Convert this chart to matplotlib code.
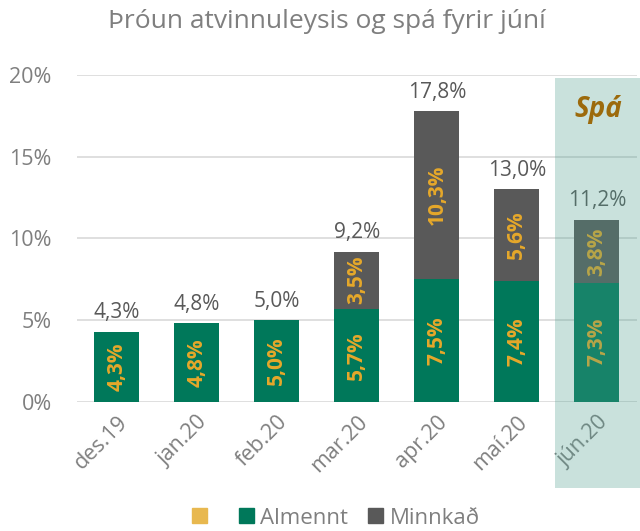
import matplotlib.pyplot as plt
import matplotlib.patches as mpatches

plt.rcParams['font.family'] = ['Open Sans', 'DejaVu Sans']

months = ["des.19", "jan.20", "feb.20", "mar.20", "apr.20", "maí.20", "jún.20"]
almennt = [4.3, 4.8, 5.0, 5.7, 7.5, 7.4, 7.3]
minnkad = [0.0, 0.0, 0.0, 3.5, 10.3, 5.6, 3.8]
totals = [4.3, 4.8, 5.0, 9.2, 17.8, 13.0, 11.2]
yticks = [0, 5, 10, 15, 20]

GREEN = "#00785A"
GRAY = "#595959"
YELLOW = "#E8B84F"
ORANGE = "#E6A82A"
TXT = "#7F7F7F"

def fmt(v):
    return f"{v:.1f}".replace(".", ",") + "%"

fig = plt.figure(figsize=(6.4, 5.31), dpi=100)
ax = fig.add_axes([0.120, 0.243, 0.875, 0.616])

x = range(len(months))
w = 0.56
ax.bar(x, almennt, width=w, color=GREEN, zorder=2)
ax.bar(x, minnkad, width=w, bottom=almennt, color=GRAY, zorder=2)

for i in x:
    ax.text(i, almennt[i] / 2, fmt(almennt[i]), rotation=90, ha="center", va="center",
            color=ORANGE, fontsize=15, fontweight="bold", zorder=3)
    if minnkad[i] > 0:
        ax.text(i, almennt[i] + minnkad[i] / 2, fmt(minnkad[i]), rotation=90, ha="center",
                va="center", color=ORANGE, fontsize=15, fontweight="bold", zorder=3)
    ax.text(i, totals[i] + 0.5, fmt(totals[i]), ha="center", va="bottom",
            color=GRAY, fontsize=15, zorder=3)

ax.set_xlim(-0.5, len(months) - 0.5)
ax.set_ylim(0, 20)
ax.set_yticks(yticks)
ax.set_yticklabels([f"{t}%" for t in yticks])
ax.set_xticks(list(x))
ax.set_xticklabels(months, rotation=45, ha="right", rotation_mode="anchor")
ax.tick_params(axis="both", length=0, labelsize=15.5, labelcolor=TXT)
ax.tick_params(axis="y", pad=18)
ax.tick_params(axis="x", pad=7)
ax.grid(axis="y", color="#D9D9D9", linewidth=1.2, zorder=0)
for s in ax.spines.values():
    s.set_visible(False)

fig.text(0.51, 0.960, "Þróun atvinnuleysis og spá fyrir júní", ha="center", va="center",
         color=TXT, fontsize=19)

# forecast shading
fig.patches.append(mpatches.Rectangle((555 / 640, 43 / 531), 85 / 640, 410 / 531,
                                      transform=fig.transFigure, facecolor="#4D9E8E",
                                      alpha=0.3, edgecolor="none", zorder=5))
fig.text(598 / 640, 1 - 110 / 531, "Spá", ha="center", va="center", color="#9C6A0C",
         fontsize=20, fontweight="bold", fontstyle="italic", zorder=6)

handles = [mpatches.Patch(color=YELLOW, label=" "),
           mpatches.Patch(color=GREEN, label="Almennt"),
           mpatches.Patch(color=GRAY, label="Minnkað")]
fig.legend(handles=handles, loc="center", bbox_to_anchor=(0.525, 1 - 518 / 531), ncol=3,
           frameon=False, fontsize=16, labelcolor=TXT, handlelength=0.65, handleheight=0.65,
           handletextpad=0.3, columnspacing=0.9)

fig.savefig("out.png", dpi=100)
